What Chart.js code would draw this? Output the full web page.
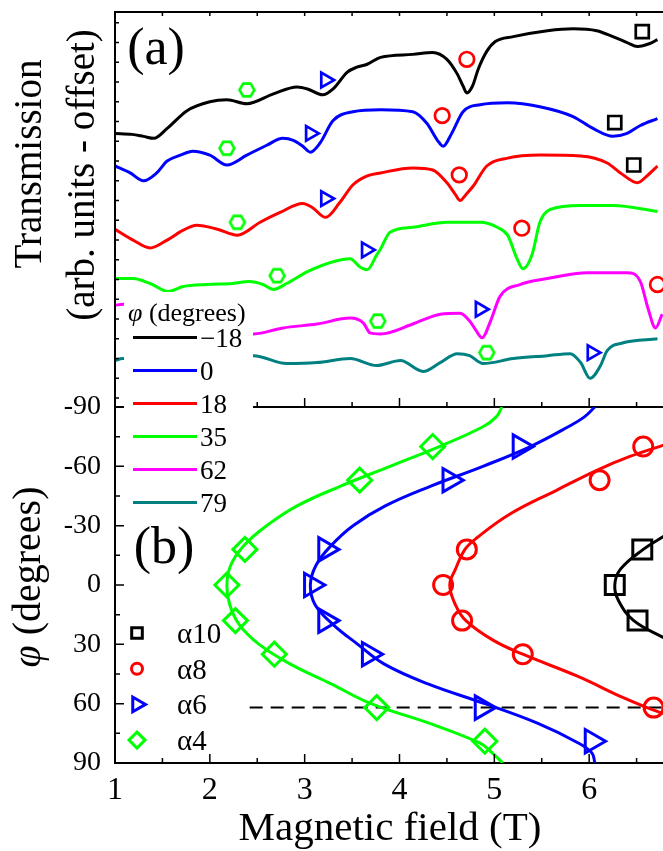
<!DOCTYPE html>
<html>
<head>
<meta charset="utf-8">
<script src="https://cdn.jsdelivr.net/npm/chart.js@4.4.1/dist/chart.umd.min.js"></script>
<style>
html, body { margin: 0; padding: 0; background: #fff; overflow: hidden; }
#wrap { position: relative; width: 663px; height: 851px; overflow: hidden; }
#wrap canvas { position: absolute; left: 0; top: 0; }
</style>
</head>
<body>
<div id="wrap">
  <canvas id="chartA" width="720" height="420"></canvas>
  <canvas id="chartB" width="720" height="851"></canvas>
</div>
<script>
// (a) transmission spectra, [field (T), transmission (arb. units, offset)]
const specM18 = [[1.00,277],[1.18,276],[1.30,274],[1.41,272],[1.55,282],[1.76,300],[2.00,309],[2.18,311],[2.39,307],[2.67,317],[2.92,324],[3.03,322],[3.19,316],[3.30,322],[3.45,339],[3.55,344],[3.66,347],[3.80,354],[4.14,357],[4.35,359],[4.50,352],[4.61,337],[4.67,325],[4.71,318],[4.77,325],[4.83,342],[4.92,360],[5.01,370],[5.20,375],[5.56,381],[5.83,383],[6.08,381],[6.25,375],[6.40,369],[6.51,365],[6.64,368],[6.72,372]];
const spec0 = [[1.00,244],[1.16,237],[1.30,229],[1.44,237],[1.55,249],[1.69,255],[1.82,259],[2.00,255],[2.18,245],[2.39,255],[2.60,265],[2.77,272],[2.88,270],[2.98,264],[3.06,258],[3.16,267],[3.30,290],[3.51,299],[3.80,301],[4.14,299],[4.29,287],[4.40,270],[4.46,264],[4.55,277],[4.67,299],[4.85,306],[5.14,308],[5.48,304],[5.83,294],[6.04,282],[6.25,274],[6.40,277],[6.54,285],[6.72,292]];
const spec18 = [[1.00,180],[1.19,169],[1.37,161],[1.55,169],[1.72,179],[1.86,184],[2.08,180],[2.29,174],[2.53,187],[2.74,197],[2.98,206],[3.08,202],[3.22,192],[3.37,207],[3.51,225],[3.66,234],[3.80,237],[4.14,242],[4.35,240],[4.50,227],[4.59,215],[4.64,209],[4.70,215],[4.78,224],[4.92,244],[5.14,252],[5.48,255],[5.91,254],[6.19,247],[6.33,237],[6.51,227],[6.61,234],[6.72,244]];
const spec35 = [[1.00,130],[1.19,130],[1.37,125],[1.56,117],[1.72,122],[1.97,124],[2.24,125],[2.42,127],[2.56,124],[2.67,119],[2.81,125],[3.03,137],[3.30,147],[3.48,150],[3.58,142],[3.66,139],[3.76,154],[3.80,160],[3.90,177],[4.14,182],[4.50,187],[4.85,187],[5.03,182],[5.14,174],[5.24,150],[5.30,140],[5.40,155],[5.48,187],[5.59,200],[5.91,204],[6.25,204],[6.72,198]];
const spec62 = [[1.00,103],[1.08,104],[1.79,85],[2.46,74],[2.77,80],[3.13,84],[3.48,90],[3.62,85],[3.69,75],[3.80,74],[4.14,84],[4.43,94],[4.64,95],[4.74,87],[4.81,77],[4.87,70],[4.96,87],[5.06,112],[5.27,124],[5.56,130],[5.98,136],[6.40,136],[6.54,127],[6.62,100],[6.70,80],[6.77,94]];
const spec79 = [[1.00,47],[1.08,49],[1.79,50],[2.46,52],[2.81,44],[3.13,45],[3.48,49],[3.76,42],[4.01,47],[4.25,36],[4.43,45],[4.61,54],[4.74,52],[4.88,44],[5.20,49],[5.56,52],[5.80,54],[5.91,45],[6.01,29],[6.12,42],[6.19,57],[6.36,65],[6.72,69]];
const specAngles = ['\u221218', '0', '18', '35', '62', '79'];

// resonance marks on the spectra
const a4Top = [[2.39,321],[2.18,262],[2.29,187],[2.71,133],[3.77,87],[4.92,55]];
const a6Top = [[3.22,331],[3.06,277],[3.22,211],[3.65,159],[4.85,99],[6.03,55]];
const a8Top = [[4.71,352],[4.45,295],[4.63,235],[5.29,181],[6.72,124]];
const a10Top = [[6.56,380],[6.27,288],[6.47,245]];

// (b) angle dependence: phi (deg) vs field (T)
const phiPts = [-70, -53, -18, 0, 18, 35, 62, 79];
const a4Field = [4.35, 3.58, 2.37, 2.18, 2.27, 2.68, 3.76, 4.90];
const a6Field = [5.27, 4.53, 3.22, 3.07, 3.22, 3.68, 4.87, 6.03];
const a8Phi = [-70, -53, -18, 0, 18, 35, 62];
const a8Field = [6.57, 6.11, 4.71, 4.46, 4.66, 5.30, 6.68];
const a10Phi = [-18, 0, 18];
const a10Field = [6.56, 6.27, 6.51];

// fitted curves
const fitPhi = [-90, -85, -80, -70, -60, -50, -40, -30, -20, -10, 0, 10, 20, 30, 40, 50, 60, 70, 80, 85, 90];
const fit4 = [5.08, 5.02, 4.88, 4.42, 3.90, 3.38, 2.92, 2.60, 2.36, 2.22, 2.18, 2.21, 2.31, 2.52, 2.85, 3.28, 3.70, 4.32, 4.85, 4.98, 5.09];
const fit6 = [6.06, 5.95, 5.78, 5.38, 4.88, 4.33, 3.85, 3.51, 3.28, 3.12, 3.06, 3.11, 3.30, 3.56, 3.84, 4.30, 4.90, 5.46, 5.89, 6.03, 6.06];
const fit8Phi = [-71, -65, -58, -48, -36, -24, -18, -8, 0, 10, 18, 28, 35, 46, 57, 62, 65];
const fit8 = [6.80, 6.43, 6.08, 5.66, 5.17, 4.82, 4.69, 4.59, 4.53, 4.59, 4.70, 4.99, 5.30, 5.87, 6.36, 6.61, 6.78];
const fit10Phi = [-25, -18, -8, 0, 8, 18, 27];
const fit10 = [6.80, 6.57, 6.33, 6.27, 6.31, 6.47, 6.80];
const dashPhi = 62;
const dashField = [2.42, 7];

const FONT = 'Liberation Serif';
const specColors = ['#000000', '#0000ff', '#ff0000', '#00ff00', '#ff00ff', '#008080'];
const cBlack = '#000000', cBlue = '#0000ff', cRed = '#ff0000', cGreen = '#00ff00';

function pairs(arr) { return arr.map(p => ({x: p[0], y: p[1]})); }
function zipXY(xs, ys) { return xs.map((v, i) => ({x: v, y: ys[i]})); }

function hexagon(size, color, lw) {
  const c = document.createElement('canvas');
  c.width = c.height = size;
  const g = c.getContext('2d');
  const r = size / 2 - lw;
  g.strokeStyle = color; g.lineWidth = lw;
  g.beginPath();
  for (let k = 0; k < 6; k++) {
    const a = Math.PI / 3 * k;
    const px = size / 2 + r * Math.cos(a), py = size / 2 + r * Math.sin(a);
    if (k) g.lineTo(px, py); else g.moveTo(px, py);
  }
  g.closePath(); g.stroke();
  return c;
}

function richText(ctx, parts, x, y, size, align, rot) {
  ctx.save();
  ctx.translate(x, y);
  if (rot) ctx.rotate(rot);
  ctx.fillStyle = '#000';
  ctx.textBaseline = 'alphabetic';
  ctx.textAlign = 'left';
  let total = 0;
  const widths = parts.map(p => {
    ctx.font = (p[1] ? 'italic ' : '') + size + 'px "' + FONT + '"';
    const w = ctx.measureText(p[0]).width;
    total += w;
    return w;
  });
  let cx = align === 'center' ? -total / 2 : 0;
  parts.forEach((p, i) => {
    ctx.font = (p[1] ? 'italic ' : '') + size + 'px "' + FONT + '"';
    ctx.fillText(p[0], cx, 0);
    cx += widths[i];
  });
  ctx.restore();
}

// ---------- panel (a) ----------
const frameA = {
  id: 'frameA',
  afterDraw(chart) {
    const {ctx, chartArea: a, scales: {x, y}} = chart;
    ctx.save();
    ctx.strokeStyle = '#000';
    ctx.lineWidth = 2;
    ctx.beginPath();
    ctx.moveTo(a.left, a.bottom); ctx.lineTo(a.left, a.top); ctx.lineTo(a.right, a.top);
    ctx.moveTo(a.left, a.bottom); ctx.lineTo(a.right, a.bottom);
    ctx.stroke();
    ctx.lineWidth = 1.5;
    ctx.beginPath();
    for (let v = 1.5; v < 7; v += 0.5) {
      const px = x.getPixelForValue(v);
      ctx.moveTo(px, a.top); ctx.lineTo(px, a.top + 4);
      ctx.moveTo(px, a.bottom); ctx.lineTo(px, a.bottom - (v % 1 === 0 ? 9 : 5));
    }
    for (let v = 9; v < 400; v += 20) {
      const py = y.getPixelForValue(v);
      ctx.moveTo(a.left, py); ctx.lineTo(a.left + 4, py);
    }
    ctx.stroke();
    ctx.restore();
    richText(ctx, [['(a)']], 156, 64, 52, 'center');
    richText(ctx, [['Transmission']], 41, 164, 39, 'center', -Math.PI / 2);
    richText(ctx, [['(arb. units - offset)']], 94, 175, 39, 'center', -Math.PI / 2);
  }
};

const specs = [specM18, spec0, spec18, spec35, spec62, spec79];
const dsA = specs.map((s, i) => ({
  data: pairs(s), showLine: true, borderColor: specColors[i], borderWidth: 3,
  pointRadius: 0, cubicInterpolationMode: 'monotone'
}));
const hexTop = hexagon(20, cGreen, 2.6);
dsA.unshift(
  {data: pairs(a4Top), pointStyle: hexTop, pointRadius: 8, borderColor: cGreen},
  {data: pairs(a6Top), pointStyle: 'triangle', rotation: 90, pointRadius: 8.5, borderWidth: 2.7, borderColor: cBlue, backgroundColor: 'rgba(0,0,0,0)'},
  {data: pairs(a8Top), pointStyle: 'circle', pointRadius: 7.3, borderWidth: 2.7, borderColor: cRed, backgroundColor: 'rgba(0,0,0,0)'},
  {data: pairs(a10Top), pointStyle: 'rect', pointRadius: 9.2, borderWidth: 2.7, borderColor: cBlack, backgroundColor: 'rgba(0,0,0,0)'}
);

new Chart(document.getElementById('chartA'), {
  type: 'scatter',
  data: {datasets: dsA},
  options: {
    responsive: false,
    animation: false,
    layout: {padding: {left: 115, right: 36, top: 7, bottom: 13}},
    plugins: {legend: {display: false}, tooltip: {enabled: false}},
    scales: {
      x: {type: 'linear', min: 1, max: 7, display: false},
      y: {type: 'linear', min: 0, max: 400, display: false}
    }
  },
  plugins: [frameA]
});

// ---------- panel (b) ----------
const frameB = {
  id: 'frameB',
  afterDraw(chart) {
    const {ctx, chartArea: a, scales: {x, y}} = chart;
    ctx.save();
    ctx.strokeStyle = '#000';
    ctx.lineWidth = 1.5;
    ctx.beginPath();
    for (let v = 1.5; v < 7; v += 0.5) {
      const px = x.getPixelForValue(v);
      ctx.moveTo(px, a.bottom); ctx.lineTo(px, a.bottom - (v % 1 === 0 ? 9 : 5));
    }
    for (let v = -75; v < 90; v += 15) {
      const py = y.getPixelForValue(v);
      ctx.moveTo(a.left, py); ctx.lineTo(a.left + (v % 30 === 0 ? 9 : 5), py);
    }
    ctx.stroke();

    // legend of panel (a)
    ctx.fillStyle = '#fff';
    ctx.fillRect(124, 292, 129, 223);
    ctx.restore();
    richText(ctx, [['\u03c6', true], [' (degrees)']], 128, 321, 26);
    specAngles.forEach((lab, i) => {
      const ly = 337.5 + 33 * i;
      ctx.save();
      ctx.strokeStyle = specColors[i];
      ctx.lineWidth = 3;
      ctx.beginPath(); ctx.moveTo(133, ly); ctx.lineTo(197, ly); ctx.stroke();
      ctx.restore();
      richText(ctx, [[lab]], 200, ly + 9, 27);
    });

    // legend of panel (b)
    const marks = chart.data.datasets.slice(0, 4);
    const legR = [7.5, 5.5, 8.5, 8];
    const legLab = ['\u03b110', '\u03b18', '\u03b16', '\u03b14'];
    marks.forEach((ds, i) => {
      const ly = 633 + 35.7 * i;
      ctx.save();
      ctx.strokeStyle = ds.borderColor;
      ctx.fillStyle = 'rgba(0,0,0,0)';
      ctx.lineWidth = 3;
      Chart.helpers.drawPoint(ctx, {pointStyle: ds.pointStyle, rotation: ds.rotation || 0, radius: legR[i], borderWidth: 3}, 137, ly);
      ctx.restore();
      richText(ctx, [[legLab[i]]], 177, ly + 10, 29);
    });

    richText(ctx, [['(b)']], 164, 563, 52, 'center');
    richText(ctx, [['\u03c6', true], [' (degrees)']], 40, 577, 40, 'center', -Math.PI / 2);
    richText(ctx, [['Magnetic field (T)']], 390, 840, 41, 'center');
  }
};

const dsB = [
  {data: zipXY(a10Field, a10Phi), pointStyle: 'rect', pointRadius: 13.4, borderWidth: 3, borderColor: cBlack, backgroundColor: 'rgba(0,0,0,0)'},
  {data: zipXY(a8Field, a8Phi), pointStyle: 'circle', pointRadius: 9.5, borderWidth: 3, borderColor: cRed, backgroundColor: 'rgba(0,0,0,0)'},
  {data: zipXY(a6Field, phiPts), pointStyle: 'triangle', rotation: 90, pointRadius: 13.5, borderWidth: 3, borderColor: cBlue, backgroundColor: 'rgba(0,0,0,0)'},
  {data: zipXY(a4Field, phiPts), pointStyle: 'rectRot', pointRadius: 12, borderWidth: 3, borderColor: cGreen, backgroundColor: 'rgba(0,0,0,0)'},
  {data: zipXY(fit10, fit10Phi), showLine: true, pointRadius: 0, borderWidth: 3, borderColor: cBlack, tension: 0.4},
  {data: zipXY(fit8, fit8Phi), showLine: true, pointRadius: 0, borderWidth: 3, borderColor: cRed, tension: 0.4},
  {data: zipXY(fit6, fitPhi), showLine: true, pointRadius: 0, borderWidth: 3, borderColor: cBlue, tension: 0.4},
  {data: zipXY(fit4, fitPhi), showLine: true, pointRadius: 0, borderWidth: 3, borderColor: cGreen, tension: 0.4},
  {data: dashField.map(f => ({x: f, y: dashPhi})), showLine: true, pointRadius: 0, borderWidth: 2, borderColor: cBlack, borderDash: [13, 8]}
];

new Chart(document.getElementById('chartB'), {
  type: 'scatter',
  data: {datasets: dsB},
  options: {
    responsive: false,
    animation: false,
    layout: {padding: {left: 0, right: 36, top: 407, bottom: 0}},
    plugins: {legend: {display: false}, tooltip: {enabled: false}},
    scales: {
      x: {
        type: 'linear', min: 1, max: 7,
        afterFit(s) { s.height = 88; },
        grid: {display: false, drawTicks: false},
        border: {display: true, color: '#000', width: 2},
        ticks: {stepSize: 1, padding: 8, color: '#000', font: {family: FONT, size: 32},
                callback: v => (v < 7 ? v : '')}
      },
      y: {
        type: 'linear', min: -90, max: 90, reverse: true,
        afterFit(s) { s.width = 115; },
        grid: {display: false, drawTicks: false},
        border: {display: true, color: '#000', width: 2},
        ticks: {stepSize: 30, padding: 14, color: '#000', font: {family: FONT, size: 28}}
      }
    }
  },
  plugins: [frameB]
});
</script>
</body>
</html>
